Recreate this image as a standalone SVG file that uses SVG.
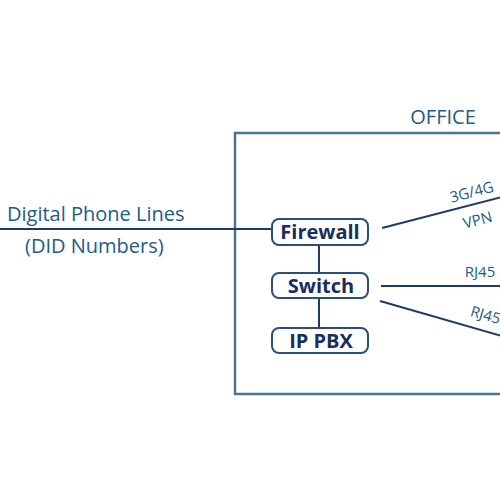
<svg xmlns="http://www.w3.org/2000/svg" width="500" height="500" viewBox="0 0 500 500">
<style>
.lbl{font-family:"Open Sans","Liberation Sans",sans-serif;fill:#235b86;font-size:20px}
.sm{font-family:"Open Sans","Liberation Sans",sans-serif;fill:#235b86;font-size:15px}
.node rect{fill:#fff;stroke:#2b4f78;stroke-width:2}
.node text{font-family:"Open Sans","Liberation Sans",sans-serif;font-weight:bold;font-size:20px;fill:#1b2d5e;text-anchor:middle}
.conn line{stroke:#1f3a66;stroke-width:2}
</style>
<rect width="500" height="500" fill="#fff"/>
<g id="office">
<path d="M502 133 H235 V394 H502" fill="none" stroke="#4a7395" stroke-width="2.5"/>
<text class="lbl" x="443" y="124" text-anchor="middle">OFFICE</text>
</g>
<g class="conn" id="connectors">
<line x1="0" y1="229" x2="272" y2="229"/>
<line x1="319" y1="245" x2="319" y2="273"/>
<line x1="319" y1="298" x2="319" y2="328"/>
<line x1="382" y1="228" x2="502" y2="197"/>
<line x1="381" y1="286" x2="502" y2="286"/>
<line x1="380" y1="301" x2="502" y2="336"/>
</g>
<g id="labels">
<text class="lbl" x="7" y="221">Digital Phone Lines</text>
<text class="lbl" x="25" y="253">(DID Numbers)</text>
<text class="sm" transform="translate(473,197) rotate(-14.7)" text-anchor="middle">3G/4G</text>
<text class="sm" transform="translate(479,225) rotate(-14.7)" text-anchor="middle">VPN</text>
<text class="sm" x="480" y="277" text-anchor="middle">RJ45</text>
<text class="sm" transform="translate(484,320) rotate(16.3)" text-anchor="middle">RJ45</text>
</g>
<g class="node" id="firewall">
<rect x="272" y="219" width="96" height="26" rx="7"/>
<text x="320" y="239">Firewall</text>
</g>
<g class="node" id="switch">
<rect x="272" y="273" width="96" height="25" rx="7"/>
<text x="321" y="293">Switch</text>
</g>
<g class="node" id="ippbx">
<rect x="272" y="328" width="96" height="25" rx="7"/>
<text x="321" y="348">IP PBX</text>
</g>
</svg>
